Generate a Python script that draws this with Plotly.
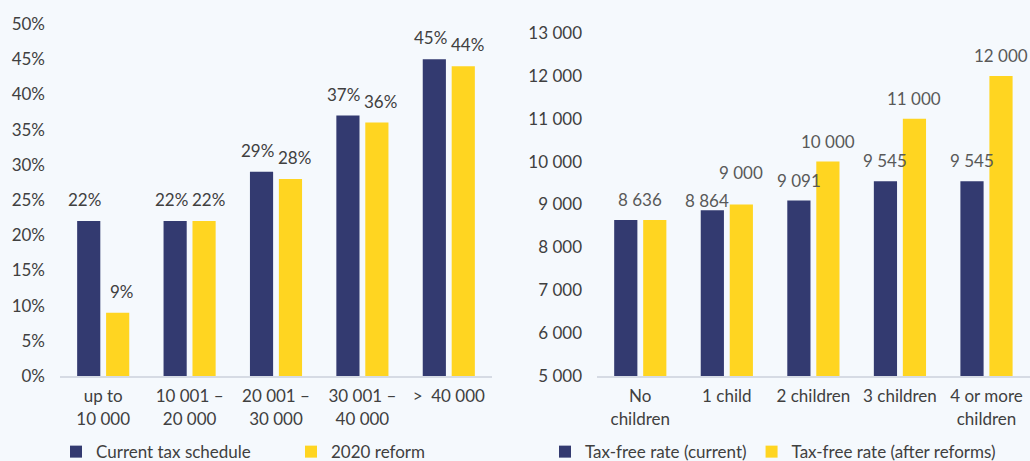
import plotly.graph_objects as go
from plotly.subplots import make_subplots

# left panel: tax rate by income bracket
income_brackets = ["up to<br>10 000", "10 001 –<br>20 000", "20 001 –<br>30 000",
                   "30 001 –<br>40 000", ">  40 000"]
rate_current = [0.22, 0.22, 0.29, 0.37, 0.45]
rate_reform = [0.09, 0.22, 0.28, 0.36, 0.44]

# right panel: tax-free amount by number of children
children = ["No<br>children", "1 child", "2 children", "3 children", "4 or more<br>children"]
taxfree_current = [8636, 8864, 9091, 9545, 9545]
taxfree_reform = [8636, 9000, 10000, 11000, 12000]

NAVY = "#333a70"
YELLOW = "#ffd521"
BG = "#f5f9fd"
TXT = "#404040"
LBL2 = "#595959"
FONT = "Lato"
FS = 17
HALF = 14.5  # px from group centre to bar centre


def spaced(v):
    return f"{v:,}".replace(",", " ")


fig = make_subplots(rows=1, cols=2)

fig.add_trace(go.Bar(x=income_brackets, y=rate_current, name="Current tax schedule",
                     marker_color=NAVY, legend="legend"), row=1, col=1)
fig.add_trace(go.Bar(x=income_brackets, y=rate_reform, name="2020 reform",
                     marker_color=YELLOW, legend="legend"), row=1, col=1)
fig.add_trace(go.Bar(x=children, y=taxfree_current, name="Tax-free rate (current)",
                     marker_color=NAVY, legend="legend2"), row=1, col=2)
fig.add_trace(go.Bar(x=children, y=taxfree_reform, name="Tax-free rate (after reforms)",
                     marker_color=YELLOW, legend="legend2"), row=1, col=2)
fig.update_traces(marker_line_width=0)

# value labels (pairs pushed slightly apart so they don't collide)
for cat, a, b in zip(income_brackets, rate_current, rate_reform):
    for val, dx in ((a, -HALF - 4), (b, HALF + 4)):
        fig.add_annotation(x=cat, y=val, xref="x", yref="y", text=f"{val:.0%}",
                           xshift=dx, yshift=9, yanchor="bottom", showarrow=False,
                           font=dict(size=FS, color=TXT))

for i, (cat, a, b) in enumerate(zip(children, taxfree_current, taxfree_reform)):
    if a == b:
        # identical values: one label over the pair
        fig.add_annotation(x=cat, y=a, xref="x2", yref="y2", text=spaced(a),
                           yshift=8, yanchor="bottom", showarrow=False,
                           font=dict(size=FS, color=LBL2))
        continue
    dy_a, dy_b, dx_a = 8, 8, -HALF
    if i == 1:  # labels nudged apart in the original
        dy_a, dy_b, dx_a = -3, 20, -HALF - 5
    fig.add_annotation(x=cat, y=a, xref="x2", yref="y2", text=spaced(a),
                       xshift=dx_a, yshift=dy_a, yanchor="bottom", showarrow=False,
                       font=dict(size=FS, color=LBL2))
    fig.add_annotation(x=cat, y=b, xref="x2", yref="y2", text=spaced(b),
                       xshift=HALF, yshift=dy_b, yanchor="bottom", showarrow=False,
                       font=dict(size=FS, color=LBL2))

fig.update_layout(
    width=1030, height=461,
    margin=dict(l=0, r=0, t=24, b=85, autoexpand=False),
    paper_bgcolor=BG, plot_bgcolor=BG,
    font=dict(family=FONT, size=FS, color=TXT),
    separators=". ",
    barmode="group", bargap=0.33, bargroupgap=0.2,
    legend=dict(orientation="h", x=56 / 1030, y=-0.165, xanchor="left", yanchor="top",
                entrywidth=190, entrywidthmode="pixels", itemwidth=30,
                font=dict(size=FS, color=TXT), bgcolor="rgba(0,0,0,0)"),
    legend2=dict(orientation="h", x=545 / 1030, y=-0.165, xanchor="left", yanchor="top",
                 itemwidth=30, font=dict(size=FS, color=TXT), bgcolor="rgba(0,0,0,0)"),
)

fig.update_xaxes(showline=True, linecolor="#d6dbe4", linewidth=2, showgrid=False,
                 ticks="", tickfont=dict(size=FS, color=TXT), automargin=False,
                 ticklabelstandoff=4)
fig.update_xaxes(domain=[60 / 1030, 492 / 1030], row=1, col=1)
fig.update_xaxes(domain=[597 / 1030, 1], row=1, col=2)

fig.update_yaxes(showgrid=False, zeroline=False, showline=False, ticks="",
                 tickfont=dict(size=FS, color=TXT), automargin=False)
fig.update_yaxes(range=[0, 0.5], dtick=0.05, tickformat=".0%", ticklabelstandoff=14,
                 row=1, col=1)
fig.update_yaxes(range=[5000, 13000], dtick=1000, tickformat=",d", ticklabelstandoff=14,
                 domain=[0, (376 - 33) / 352], row=1, col=2)

# page body has a default 8px margin; drop it so the figure fills the window
fig.write_html("out.html", config={"displayModeBar": False},
               post_script="document.body.style.margin='0';")
